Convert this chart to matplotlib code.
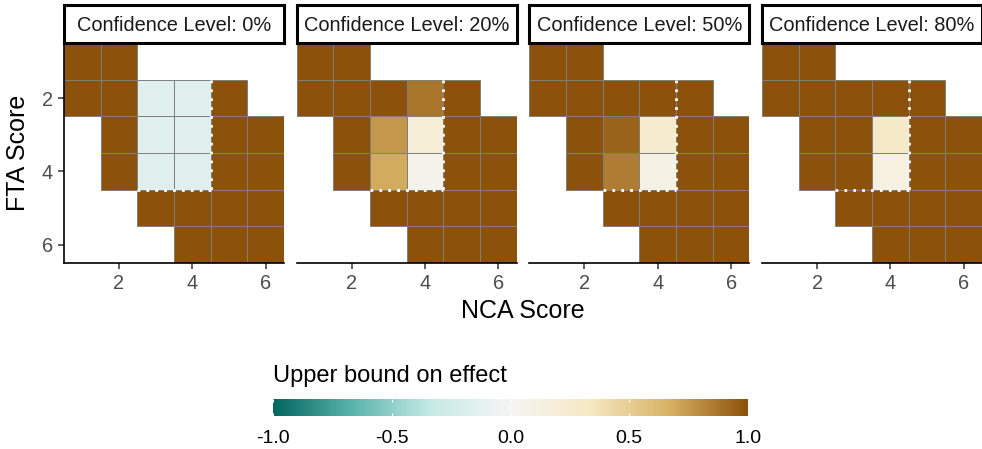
import numpy as np
import matplotlib
matplotlib.use("Agg")
import matplotlib.pyplot as plt
from matplotlib.colors import LinearSegmentedColormap, Normalize

plt.rcParams['font.family'] = ['Liberation Sans', 'DejaVu Sans']

N = np.nan

# NCA score (columns) x FTA score (rows), upper bound on effect per cell
nca_scores = [1, 2, 3, 4, 5, 6]
fta_scores = [1, 2, 3, 4, 5, 6]
conf_levels = ["0%", "20%", "50%", "80%"]

ub_0 = [
    [1, 1, N, N, N, N],
    [1, 1, -0.17, -0.17, 1, N],
    [N, 1, -0.17, -0.17, 1, 1],
    [N, 1, -0.17, -0.17, 1, 1],
    [N, N, 1, 1, 1, 1],
    [N, N, N, 1, 1, 1],
]
ub_20 = [
    [1, 1, N, N, N, N],
    [1, 1, 1, 0.87, 1, N],
    [N, 1, 0.75, 0.2, 1, 1],
    [N, 1, 0.69, 0.08, 1, 1],
    [N, N, 1, 1, 1, 1],
    [N, N, N, 1, 1, 1],
]
ub_50 = [
    [1, 1, N, N, N, N],
    [1, 1, 1, 1, 1, N],
    [N, 1, 0.93, 0.26, 1, 1],
    [N, 1, 0.85, 0.11, 1, 1],
    [N, N, 1, 1, 1, 1],
    [N, N, N, 1, 1, 1],
]
ub_80 = [
    [1, 1, N, N, N, N],
    [1, 1, 1, 1, 1, N],
    [N, 1, 1, 0.31, 1, 1],
    [N, 1, 1, 0.14, 1, 1],
    [N, N, 1, 1, 1, 1],
    [N, N, N, 1, 1, 1],
]
panels = [ub_0, ub_20, ub_50, ub_80]

# region outlined with the dotted white border
region_x = (2.5, 4.5)
region_y = (1.5, 4.5)

# BrBG palette, brown for positive, teal for negative
brbg = ["#01665E", "#5AB4AC", "#C7EAE5", "#F5F5F5", "#F6E8C3", "#D8B365", "#8C510A"]
cmap = LinearSegmentedColormap.from_list("brbg", brbg, N=256)
norm = Normalize(-1, 1)

W, H = 982, 449
fig = plt.figure(figsize=(W / 100, H / 100), dpi=100)

def px(x0, y0, w, h):
    return [x0 / W, 1 - (y0 + h) / H, w / W, h / H]

for i, (vals, lvl) in enumerate(zip(panels, conf_levels)):
    left = 64 + i * 232.7
    ax = fig.add_axes(px(left, 43, 220, 220))
    z = np.array(vals, dtype=float)
    # one tile per scored cell
    for r, fta in enumerate(fta_scores):
        for c, nca in enumerate(nca_scores):
            v = z[r, c]
            if np.isnan(v):
                continue
            ax.bar(nca, 1, bottom=fta - 0.5, width=1, color=cmap(norm(v)),
                   edgecolor="#7F7F7F", linewidth=0.7)
    ax.plot([region_x[1], region_x[1]], region_y, color="white", lw=2,
            ls=(0, (1.0, 2.2)), solid_capstyle="butt")
    ax.plot(region_x, [region_y[1], region_y[1]], color="white", lw=2,
            ls=(0, (1.0, 2.2)), solid_capstyle="butt")
    ax.set_xlim(0.5, 6.5)
    ax.set_ylim(6.5, 0.5)
    ax.set_xticks([2, 4, 6])
    ax.set_yticks([2, 4, 6])
    for s in ["top", "right"]:
        ax.spines[s].set_visible(False)
    ax.spines["bottom"].set_linewidth(1.2)
    ax.spines["left"].set_linewidth(1.2)
    ax.tick_params(colors="#333333", labelcolor="#4D4D4D", labelsize=14.4,
                   length=4, width=1.1, pad=4)
    if i > 0:
        ax.spines["left"].set_visible(False)
        ax.tick_params(axis="y", left=False, labelleft=False)

    # facet strip
    sax = fig.add_axes(px(left, 5, 220, 38))
    sax.set_xticks([])
    sax.set_yticks([])
    for s in sax.spines.values():
        s.set_linewidth(2.2)
    sax.text(0.5, 0.47, "Confidence Level: " + lvl, ha="center", va="center",
             fontsize=14.4, color="#1A1A1A", transform=sax.transAxes)

fig.text(523 / W, 1 - 311 / H, "NCA Score", ha="center", va="center", fontsize=18)
fig.text(18 / W, 1 - 153 / H, "FTA Score", ha="center", va="center",
         fontsize=18, rotation=90)

# colour bar legend
cax = fig.add_axes(px(273, 399, 475, 17))
sm = matplotlib.cm.ScalarMappable(norm=norm, cmap=cmap)
cb = fig.colorbar(sm, cax=cax, orientation="horizontal")
cb.outline.set_visible(False)
cb_ticks = [-1.0, -0.5, 0.0, 0.5, 1.0]
cb.set_ticks(cb_ticks)
cb.set_ticklabels([f"{t:.1f}" for t in cb_ticks])
cax.tick_params(length=0, labelsize=14, pad=10)
cax.vlines(cb_ticks, 0, 0.2, colors="white", lw=0.8)
cax.vlines(cb_ticks, 0.8, 1, colors="white", lw=0.8)
fig.text(273 / W, 1 - 376 / H, "Upper bound on effect", ha="left", va="center",
         fontsize=17)

fig.savefig("out.png", dpi=100)
